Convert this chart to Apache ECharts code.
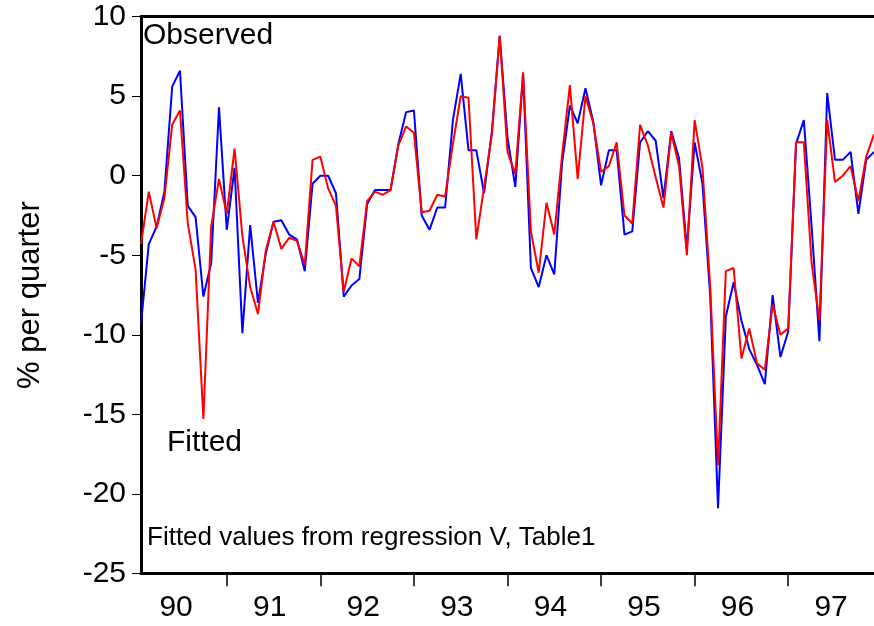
<!DOCTYPE html>
<html>
<head>
<meta charset="utf-8">
<script src="https://cdn.jsdelivr.net/npm/echarts@6/dist/echarts.min.js"></script>
<style>
html,body{margin:0;padding:0;background:#fff;}
#chart{width:874px;height:626px;}
</style>
</head>
<body>
<div id="chart"></div>
<script>
// Monthly data, Feb 1990 .. Dec 1997 (month index: Jan 1990 = 0)
const firstMonthIndex = 1;
const yearLabels = ['90','91','92','93','94','95','96','97'];
const observed = [
  -9.3,-4.3,-3.2,-1.0,5.6,6.6,-1.9,-2.6,-7.6,-5.5,4.3,
  -3.4,0.5,-9.9,-3.1,-8.0,-4.9,-2.9,-2.8,-3.7,-4.0,-6.0,-0.5,
  0.0,0.0,-1.1,-7.6,-6.9,-6.5,-1.8,-0.9,-0.9,-0.9,2.0,4.0,
  4.1,-2.5,-3.4,-2.0,-2.0,3.5,6.4,1.6,1.6,-1.1,2.8,8.8,
  2.4,-0.7,6.4,-5.8,-7.0,-5.0,-6.2,0.8,4.4,3.3,5.5,3.4,
  -0.6,1.6,1.6,-3.7,-3.5,2.1,2.8,2.2,-1.4,2.8,1.1,-4.6,
  2.1,-0.5,-7.6,-20.9,-8.85,-6.7,-9.1,-10.9,-11.9,-13.1,-7.5,-11.4,
  -9.8,2.0,3.5,-3.2,-10.4,5.2,1.0,1.0,1.5,-2.4,1.0,1.5
];
const fitted = [
  -4.3,-1.0,-3.3,-1.4,3.2,4.1,-3.0,-5.9,-15.3,-3.2,-0.2,
  -2.4,1.7,-3.8,-7.0,-8.7,-4.7,-2.9,-4.6,-3.9,-4.1,-5.6,1.0,
  1.2,-0.8,-1.9,-7.3,-5.2,-5.7,-1.6,-1.0,-1.2,-0.9,1.9,3.1,
  2.7,-2.3,-2.2,-1.2,-1.3,2.0,5.0,4.9,-4.0,-0.7,2.6,8.8,
  1.5,0.1,6.5,-3.5,-6.1,-1.7,-3.7,1.3,5.7,-0.2,5.0,3.3,
  0.25,0.6,2.1,-2.5,-3.0,3.2,1.9,-0.1,-2.0,2.7,0.6,-5.0,
  3.5,0.5,-7.0,-18.2,-6.0,-5.8,-11.5,-9.6,-11.8,-12.2,-8.1,-10.0,
  -9.6,2.1,2.1,-5.5,-9.1,3.5,-0.4,0.0,0.6,-1.6,1.2,2.6
];
const yTicks = [-25,-20,-15,-10,-5,0,5,10];

const font = '"Liberation Sans", Arial, sans-serif';
const toPairs = arr => arr.map((v, i) => [firstMonthIndex + i, v]);
const lastIndex = firstMonthIndex + observed.length - 1;
const yearTickValues = yearLabels.slice(1).map((_, i) => 12 * (i + 1));
const yearLabelValues = yearLabels.map((_, i) => 12 * i + 5.5);

const chart = echarts.init(document.getElementById('chart'), null, {renderer: 'canvas'});
chart.setOption({
  animation: false,
  backgroundColor: '#ffffff',
  grid: {left: 141, top: 16.7, width: 734, height: 556.6, containLabel: false},
  xAxis: [{
    type: 'value', position: 'bottom', min: firstMonthIndex, max: lastIndex,
    axisLine: {show: true, onZero: false, lineStyle: {color: '#000', width: 3}},
    axisTick: {show: true, inside: false, length: 13, customValues: yearTickValues,
               lineStyle: {color: '#000', width: 1.5}},
    axisLabel: {show: true, customValues: yearLabelValues, margin: 19,
                fontSize: 30, fontFamily: font, color: '#000',
                formatter: v => yearLabels[Math.floor(v / 12)]},
    splitLine: {show: false}
  }, {
    type: 'value', position: 'top', min: firstMonthIndex, max: lastIndex,
    axisLine: {show: true, onZero: false, lineStyle: {color: '#000', width: 3}},
    axisTick: {show: false}, axisLabel: {show: false}, splitLine: {show: false}
  }],
  yAxis: {
    type: 'value', min: yTicks[0], max: yTicks[yTicks.length - 1], interval: 5,
    axisLine: {show: true, onZero: false, lineStyle: {color: '#000', width: 3}},
    axisTick: {show: true, inside: false, length: 9, lineStyle: {color: '#000', width: 1}},
    axisLabel: {margin: 15, fontSize: 30, fontFamily: font, color: '#000'},
    splitLine: {show: false}
  },
  series: [{
    name: 'Observed', type: 'line', data: toPairs(observed), showSymbol: false,
    lineStyle: {color: '#0000ff', width: 2}, itemStyle: {color: '#0000ff'}, z: 2
  }, {
    name: 'Fitted', type: 'line', data: toPairs(fitted), showSymbol: false,
    lineStyle: {color: '#ff0000', width: 2}, itemStyle: {color: '#ff0000'}, z: 3
  }],
  graphic: [
    {type: 'text', x: 143, y: 36, z: 10,
     style: {text: 'Observed', font: '30px ' + font, fill: '#000', textVerticalAlign: 'middle'}},
    {type: 'text', x: 167, y: 443, z: 10,
     style: {text: 'Fitted', font: '30px ' + font, fill: '#000', textVerticalAlign: 'middle'}},
    {type: 'text', x: 147, y: 538, z: 10,
     style: {text: 'Fitted values from regression V, Table1', font: '26px ' + font, fill: '#000', textVerticalAlign: 'middle'}},
    {type: 'text', x: 30, y: 295, rotation: Math.PI / 2, z: 10,
     style: {text: '% per quarter', font: '31px ' + font, fill: '#000', textAlign: 'center', textVerticalAlign: 'middle'}}
  ]
});
</script>
</body>
</html>
